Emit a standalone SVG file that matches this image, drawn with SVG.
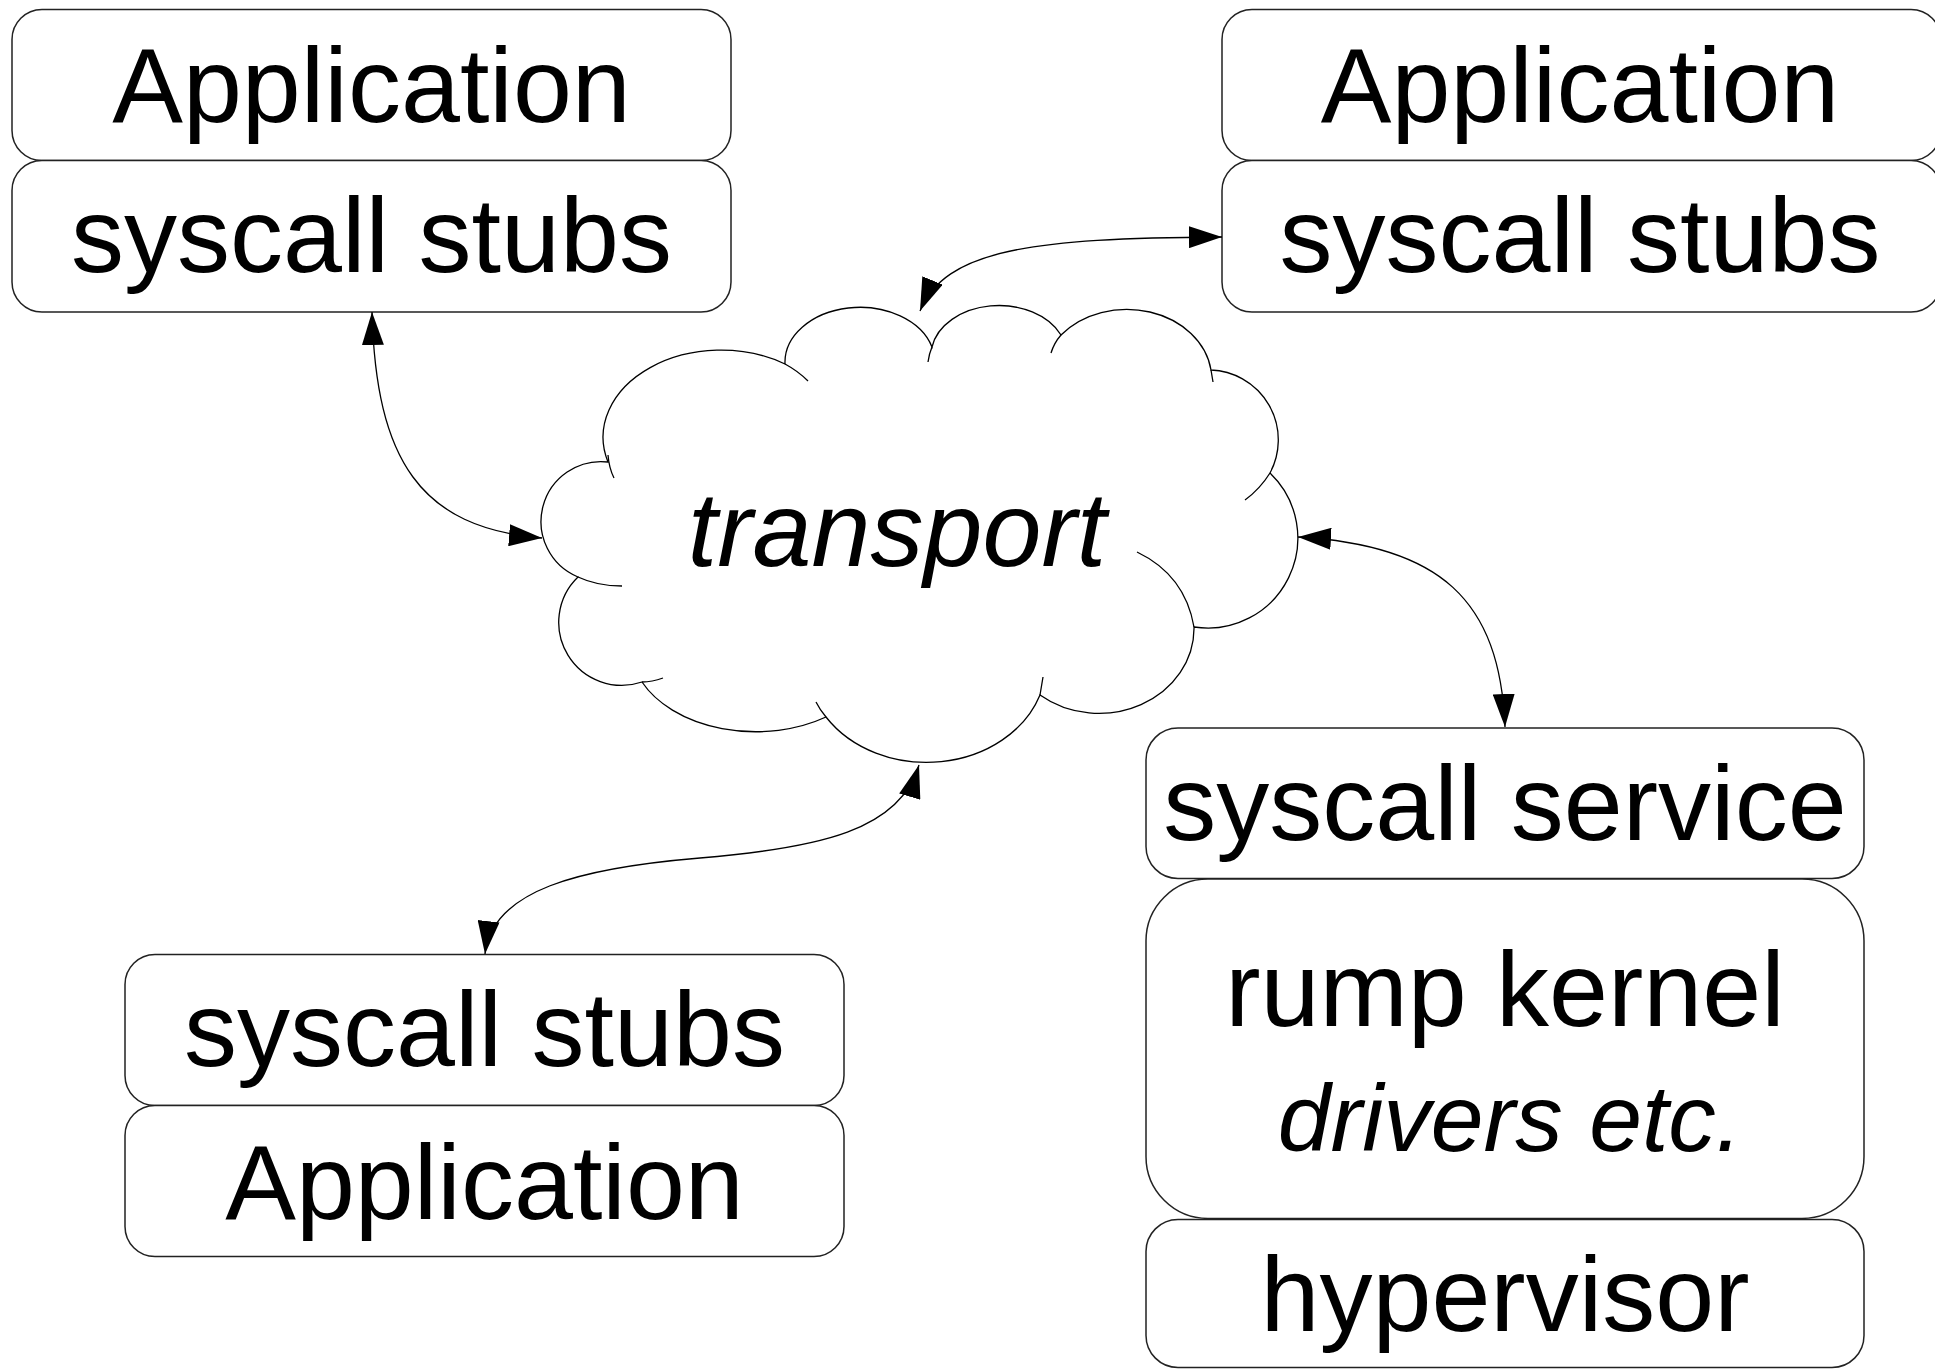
<svg xmlns="http://www.w3.org/2000/svg" width="1935" height="1369" viewBox="0 0 1935 1369">
<style>
.box{fill:#fff;stroke:#222;stroke-width:1.5}
.t{font-family:"Liberation Sans",Arial,sans-serif;font-size:106px;fill:#000;text-anchor:middle}
.i{font-style:italic}
.s{font-size:95px}
.cl{fill:#fff;stroke:#000;stroke-width:1.3}
.tail{fill:none;stroke:#000;stroke-width:1.3}
.con{fill:none;stroke:#000;stroke-width:1.3}
</style>
<defs>
<marker id="ah" markerUnits="userSpaceOnUse" markerWidth="34" markerHeight="22" refX="33" refY="11" orient="auto-start-reverse" viewBox="0 0 34 22">
<path d="M0,0 L33,11 L0,22 z" fill="#000"/>
</marker>
</defs>
<rect width="1935" height="1369" fill="#fff"/>

<g id="tl-app"><rect class="box" x="12" y="9.5" width="719" height="151" rx="30"/><text class="t" x="371.5" y="122">Application</text></g>
<g id="tl-stubs"><rect class="box" x="12" y="160.5" width="719" height="151.5" rx="30"/><text class="t" x="371.5" y="272">syscall stubs</text></g>

<g id="tr-app"><rect class="box" x="1222" y="9.5" width="719" height="151" rx="30"/><text class="t" x="1580" y="122">Application</text></g>
<g id="tr-stubs"><rect class="box" x="1222" y="160.5" width="719" height="151.5" rx="30"/><text class="t" x="1580" y="272">syscall stubs</text></g>

<g id="bl-stubs"><rect class="box" x="125" y="954.5" width="719" height="151" rx="30"/><text class="t" x="484.5" y="1066">syscall stubs</text></g>
<g id="bl-app"><rect class="box" x="125" y="1105.5" width="719" height="151" rx="30"/><text class="t" x="484.5" y="1218.5">Application</text></g>

<g id="svc"><rect class="box" x="1146" y="728" width="718" height="150.5" rx="32"/><text class="t" x="1505" y="840">syscall service</text></g>
<g id="rump"><rect class="box" x="1146" y="879" width="718" height="339.5" rx="62"/><text class="t" x="1505" y="1026">rump kernel</text><text class="t i s" x="1510" y="1150.5">drivers etc.</text></g>
<g id="hyp"><rect class="box" x="1146" y="1219.5" width="718" height="148" rx="32"/><text class="t" x="1505" y="1331">hypervisor</text></g>

<g id="transport">
<path class="cl" d="M 608 462 A 118 87 0 0 1 785 364 A 75 55 0 0 1 932 347 A 68 50 0 0 1 1061 335 A 85 70 0 0 1 1211 370 A 70 70 0 0 1 1270 473 A 90 90 0 0 1 1194 627 A 95 85 0 0 1 1040 695 A 120 100 0 0 1 826 717 A 125 85 0 0 1 642 682 A 63 63 0 0 1 578 577 A 60 60 0 0 1 608 462 Z"/>
<path class="tail" d="M 608 455 Q 609 468 614 478 M 578 577 Q 597 586 622 586 M 642 682 Q 652 682 663 678 M 826 717 Q 820 710 816 702 M 1040 695 L 1043 677 M 1194 627 Q 1185 575 1137 552 M 1270 473 Q 1260 489 1245 500 M 1211 370 L 1213 382 M 1061 335 Q 1054 343 1051 353 M 932 347 Q 929 354 928 362 M 785 364 Q 798 371 808 381"/>
<text class="t i" x="897" y="566">transport</text>
</g>

<g id="connectors">
<path class="con" d="M 372 312 C 376 460, 420 528, 542 538" marker-start="url(#ah)" marker-end="url(#ah)"/>
<path class="con" d="M 920 311 C 945 250, 1030 238, 1222 237" marker-start="url(#ah)" marker-end="url(#ah)"/>
<path class="con" d="M 1298 537 C 1440 545, 1500 600, 1505 727" marker-start="url(#ah)" marker-end="url(#ah)"/>
<path class="con" d="M 919 765 C 900 830, 820 848, 700 858 C 580 868, 492 890, 485 954" marker-start="url(#ah)" marker-end="url(#ah)"/>
</g>
</svg>
